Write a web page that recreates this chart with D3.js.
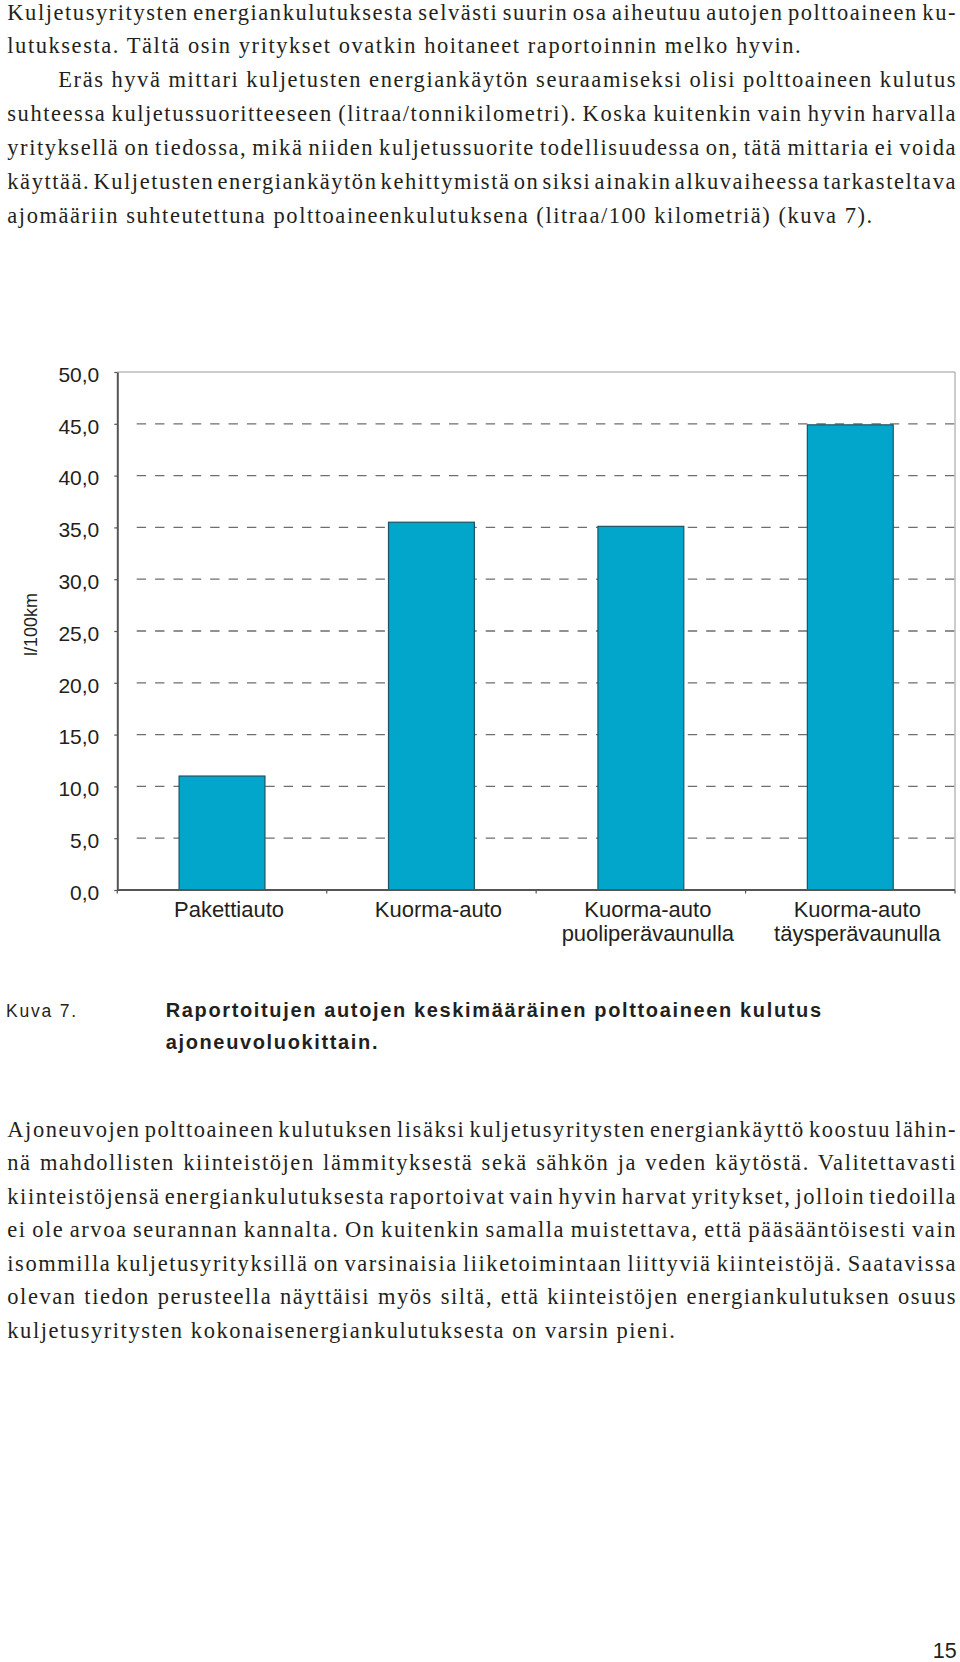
<!DOCTYPE html>
<html><head><meta charset="utf-8">
<script src="https://cdn.jsdelivr.net/npm/d3@7"></script>
<style>html,body{margin:0;padding:0;background:#fff;} svg{display:block;}</style>
</head><body>
<script>
// ---------- DATA ----------
const categories = ["Pakettiauto", "Kuorma-auto", "Kuorma-auto puoliperävaunulla", "Kuorma-auto täysperävaunulla"];
const categoryLabelLines = [["Pakettiauto"], ["Kuorma-auto"], ["Kuorma-auto", "puoliperävaunulla"], ["Kuorma-auto", "täysperävaunulla"]];
const values = [11.0, 35.5, 35.1, 44.9];
const yTicks = [0, 5, 10, 15, 20, 25, 30, 35, 40, 45, 50];
const yAxisTitle = "l/100km";
const captionLabel = "Kuva 7.";
const captionLines = ["Raportoitujen autojen keskimääräinen polttoaineen kulutus", "ajoneuvoluokittain."];
const topParagraphs = [
  ["Kuljetusyritysten energiankulutuksesta selvästi suurin osa aiheutuu autojen polttoaineen ku-",
   "lutuksesta. Tältä osin yritykset ovatkin hoitaneet raportoinnin melko hyvin."],
  ["Eräs hyvä mittari kuljetusten energiankäytön seuraamiseksi olisi polttoaineen kulutus",
   "suhteessa kuljetussuoritteeseen (litraa/tonnikilometri). Koska kuitenkin vain hyvin harvalla",
   "yrityksellä on tiedossa, mikä niiden kuljetussuorite todellisuudessa on, tätä mittaria ei voida",
   "käyttää. Kuljetusten energiankäytön kehittymistä on siksi ainakin alkuvaiheessa tarkasteltava",
   "ajomääriin suhteutettuna polttoaineenkulutuksena (litraa/100 kilometriä) (kuva 7)."]
];
const bottomParagraphs = [
  ["Ajoneuvojen polttoaineen kulutuksen lisäksi kuljetusyritysten energiankäyttö koostuu lähin-",
   "nä mahdollisten kiinteistöjen lämmityksestä sekä sähkön ja veden käytöstä. Valitettavasti",
   "kiinteistöjensä energiankulutuksesta raportoivat vain hyvin harvat yritykset, jolloin tiedoilla",
   "ei ole arvoa seurannan kannalta. On kuitenkin samalla muistettava, että pääsääntöisesti vain",
   "isommilla kuljetusyrityksillä on varsinaisia liiketoimintaan liittyviä kiinteistöjä. Saatavissa",
   "olevan tiedon perusteella näyttäisi myös siltä, että kiinteistöjen energiankulutuksen osuus",
   "kuljetusyritysten kokonaisenergiankulutuksesta on varsin pieni."]
];
const pageNumber = "15";

// ---------- LAYOUT ----------
const W = 960, H = 1662;
const ink = "#231f20";
const svg = d3.select("body").append("svg").attr("width", W).attr("height", H);

// ---------- BODY TEXT ----------
const textLeft = 7.3, textRight = 957, indent = 51;
const bodyFont = "'Liberation Serif', 'Times New Roman', serif";
const bodySize = 22.5;

function layoutBlock(paragraphs, firstBaseline, lineGap) {
  const out = [];
  let i = 0;
  paragraphs.forEach((p, pi) => {
    p.forEach((line, li) => {
      const ind = li === 0 && pi > 0 ? indent : 0;
      out.push({text: line, x: textLeft + ind, y: firstBaseline + i * lineGap,
                last: li === p.length - 1});
      i++;
    });
  });
  return out;
}
const bodyLines = layoutBlock(topParagraphs, 19.5, 33.85)
  .concat(layoutBlock(bottomParagraphs, 1136.5, 33.5));

const bodyG = svg.append("g").attr("font-family", bodyFont).attr("font-size", bodySize).attr("fill", ink);
const bt = bodyG.selectAll("text").data(bodyLines).join("text")
  .attr("x", d => d.x).attr("y", d => d.y).text(d => d.text);

// extra tracking estimated from paragraph-final lines (their widths in the reference)
const lastTargets = {"lutuksesta. Tältä osin yritykset ovatkin hoitaneet raportoinnin melko hyvin.": 828,
  "ajomääriin suhteutettuna polttoaineenkulutuksena (litraa/100 kilometriä) (kuva 7).": 847.5,
  "kuljetusyritysten kokonaisenergiankulutuksesta on varsin pieni.": 655};
let extra = 0, nch = 0;
bt.each(function(d) {
  if (lastTargets[d.text]) { extra += lastTargets[d.text] - this.getComputedTextLength(); nch += d.text.length; }
});
const ls = extra / nch;
bt.attr("letter-spacing", ls);
bt.each(function(d) {
  if (!d.last) {
    const w = this.getComputedTextLength();
    const spaces = (d.text.match(/ /g) || []).length;
    const target = textRight - d.x;
    d3.select(this).attr("word-spacing", (target - w) / spaces);
  }
});

// ---------- CHART ----------
const plot = {left: 117.3, right: 955, top: 372, bottom: 890};
const y = d3.scaleLinear().domain([0, 50]).range([plot.bottom, plot.top]);
const x = d3.scaleBand().domain(categories).range([plot.left, plot.right]).paddingInner(0.59).paddingOuter(0.295);
const xb = d3.scaleBand().domain(categories).range([plot.left, plot.right]);
const fmt = d3.formatLocale({decimal: ",", thousands: " ", grouping: [3], currency: ["", "€"]}).format(".1f");
const sans = "'Liberation Sans', Arial, Helvetica, sans-serif";

const chart = svg.append("g");

// gridlines (dashed)
chart.append("g").selectAll("line").data(yTicks.filter(t => t > 0 && t < 50)).join("line")
  .attr("x1", plot.left + 19.4).attr("x2", plot.right)
  .attr("y1", d => y(d)).attr("y2", d => y(d))
  .attr("stroke", "#6e6e6e").attr("stroke-width", 1.3).attr("stroke-dasharray", "9.4 8.97");

// frame top & right
chart.append("line").attr("x1", plot.left).attr("x2", plot.right).attr("y1", y(50)).attr("y2", y(50))
  .attr("stroke", "#9a9a9a").attr("stroke-width", 1);
chart.append("line").attr("x1", plot.right).attr("x2", plot.right).attr("y1", y(50)).attr("y2", y(0))
  .attr("stroke", "#9a9a9a").attr("stroke-width", 1);

// bars
chart.append("g").selectAll("rect").data(categories).join("rect")
  .attr("x", d => x(d)).attr("width", x.bandwidth())
  .attr("y", (d, i) => y(values[i])).attr("height", (d, i) => y(0) - y(values[i]))
  .attr("fill", "#03a6cb").attr("stroke", "#1b5364").attr("stroke-width", 1.2);

// y axis
const yAxis = chart.append("g").attr("transform", `translate(${plot.left},0)`)
  .call(d3.axisLeft(y).tickValues(yTicks).tickFormat(fmt).tickSize(3).tickSizeOuter(0).tickPadding(15));
yAxis.select(".domain").attr("stroke", "#555").attr("stroke-width", 2);
yAxis.selectAll(".tick line").attr("stroke", "#555").attr("stroke-width", 1.2);
yAxis.selectAll(".tick text").attr("font-family", sans).attr("font-size", 21).attr("fill", ink)
  .attr("dy", "0.36em").attr("y", 1.7);

// x axis line + boundary ticks
chart.append("line").attr("x1", plot.left).attr("x2", plot.right).attr("y1", y(0)).attr("y2", y(0))
  .attr("stroke", "#555").attr("stroke-width", 2);
const bounds = categories.map(c => xb(c)).concat([plot.right]);
chart.append("g").selectAll("line").data(bounds).join("line")
  .attr("x1", d => d).attr("x2", d => d).attr("y1", y(0)).attr("y2", y(0) + 3.5)
  .attr("stroke", "#555").attr("stroke-width", 1.2);

// x labels
const xl = chart.append("g").attr("font-family", sans).attr("font-size", 22).attr("fill", ink).attr("text-anchor", "middle");
categories.forEach((c, i) => {
  const cx = x(c) + x.bandwidth() / 2 + 7;
  const t = xl.append("text").attr("x", cx).attr("y", y(0) + 27);
  categoryLabelLines[i].forEach((ln, k) => {
    t.append("tspan").attr("x", cx).attr("dy", k === 0 ? 0 : 23.5).text(ln);
  });
});

// y title
chart.append("text").attr("transform", "translate(36.7,624.5) rotate(-90)")
  .attr("text-anchor", "middle").attr("font-family", sans).attr("font-size", 18).attr("fill", ink)
  .text(yAxisTitle);

// ---------- CAPTION ----------
const cap = svg.append("g").attr("font-family", sans).attr("fill", ink);
const capL = cap.append("text").attr("x", 6).attr("y", 1016.5).attr("font-size", 17.5).text(captionLabel);
capL.attr("letter-spacing", (72 - capL.node().getComputedTextLength()) / captionLabel.length);
const cb = cap.selectAll("text.b").data(captionLines).join("text").attr("class", "b")
  .attr("x", 165.7).attr("y", (d, i) => 1016.5 + i * 32.5).attr("font-size", 20)
  .attr("font-weight", "bold").text(d => d);
const cls = (657 - cb.nodes()[0].getComputedTextLength()) / captionLines[0].length;
cb.attr("letter-spacing", cls);

// ---------- PAGE NUMBER ----------
svg.append("text").attr("x", 956.7).attr("y", 1658).attr("text-anchor", "end")
  .attr("font-family", sans).attr("font-size", 21.5).attr("fill", ink).text(pageNumber);
</script>
</body></html>
